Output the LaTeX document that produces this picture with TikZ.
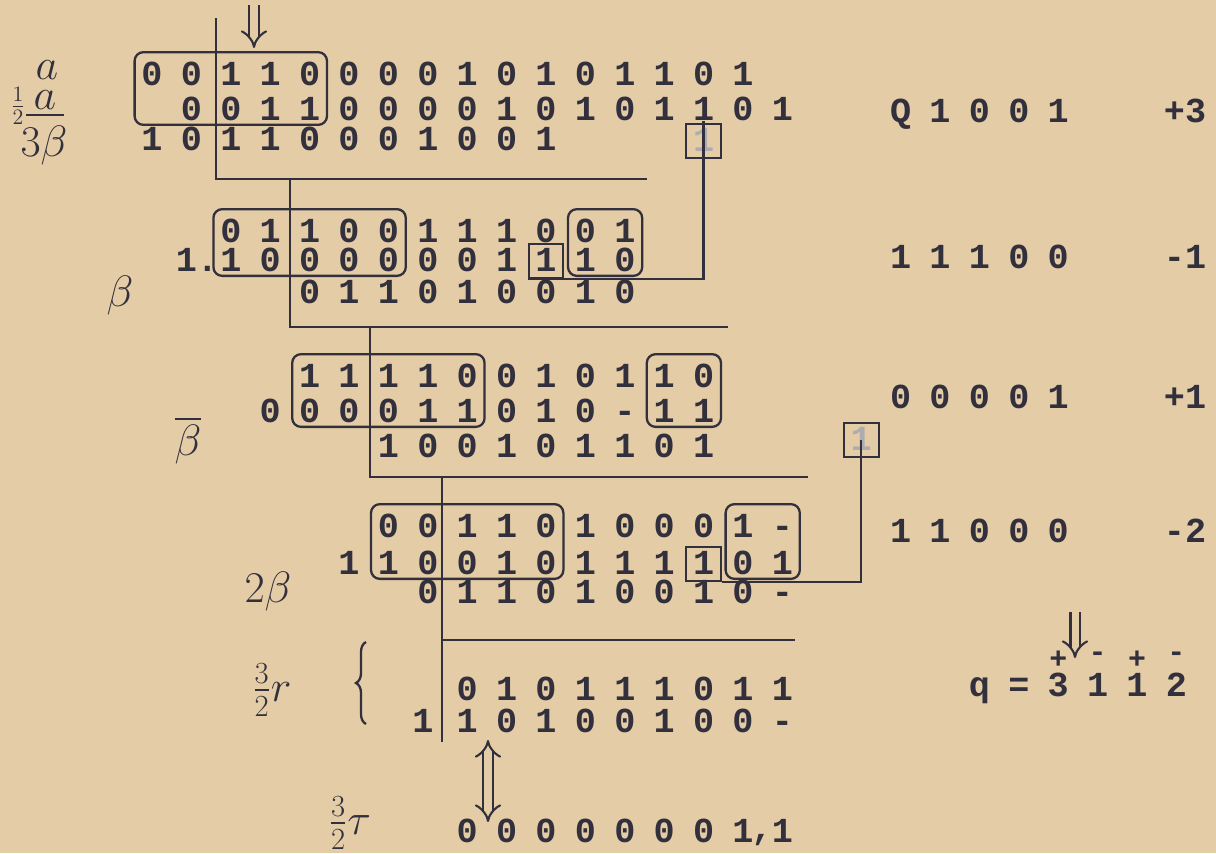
\documentclass[tikz,border=0pt]{standalone}
\usepackage{fix-cm}
\usepackage{amsmath,amssymb}
\usepackage{fontspec}
\newfontfamily\typewr{Liberation Mono}
\usetikzlibrary{fit,arrows.meta,decorations.pathreplacing}
\definecolor{paper}{RGB}{228,204,166}
\definecolor{ink}{RGB}{50,48,60}
\newcommand\digrow[4]{%
  \foreach \d [count=\c from #3] in {#4}
    \node[dig] (#1-\c) at ({152+39.4*\c},#2) {\d};}
\newcommand\colx[1]{{152+39.4*#1}}

\begin{document}
\begin{tikzpicture}[x=0.02cm, y=-0.02cm,
    dig/.style={font=\typewr\bfseries\fontsize{20}{24}\selectfont, text=ink, inner sep=0pt, text height=0.42cm, text depth=0pt},
    faint/.style={dig, text=ink!40},
    sgn/.style={font=\typewr\bfseries\fontsize{17}{19}\selectfont, text=ink, inner sep=0pt},
    hand/.style={font=\fontsize{25}{30}\selectfont, text=ink},
    grp/.style={draw=ink, line width=1.3pt, rounded corners=5pt, inner xsep=0.13cm, inner ysep=0.16cm, yshift=0.08cm},
    cell/.style={draw=ink, line width=1.2pt, inner xsep=0.13cm, inner ysep=0.12cm},
    rule/.style={draw=ink, line width=1.6pt},
    dblarr/.style={draw=ink, line width=1.2pt, double=paper, double distance=4pt, -{Implies}}]
        \fill[paper] (0,0) rectangle (1216,853);
        \useasboundingbox (0,0) rectangle (1216,853);
        \digrow{A}{75}{0}{0,0,1,1,0,0,0,0,1,0,1,0,1,1,0,1}
        \digrow{B}{110}{1}{0,0,1,1,0,0,0,0,1,0,1,0,1,1,0,1}
        \digrow{C}{140}{0}{1,0,1,1,0,0,0,1,0,0,1}
        \node[faint] (C-14) at (\colx{14},141) {1};
        \node[dig] (E-1) at (197,261) {1.};
        \digrow{D}{232}{2}{0,1,1,0,0,1,1,1,0,0,1}
        \digrow{E}{261}{2}{1,0,0,0,0,0,0,1,1,1,0}
        \digrow{F}{293}{4}{0,1,1,0,1,0,0,1,0}
        \node[dig] (H-3) at (\colx{3},412) {0};
        \digrow{G}{377}{4}{1,1,1,1,0,0,1,0,1,1,0}
        \digrow{H}{412}{4}{0,0,0,1,1,0,1,0,-,1,1}
        \digrow{I}{447}{6}{1,0,0,1,0,1,1,0,1}
        \node[faint] (I-18) at (\colx{18},440) {1};
        \node[dig] (K-5) at (\colx{5},564) {1};
        \digrow{J}{527}{6}{0,0,1,1,0,1,0,0,0,1,-}
        \digrow{K}{564}{6}{1,0,0,1,0,1,1,1,1,0,1}
        \digrow{L}{593}{7}{0,1,1,0,1,0,0,1,0,-}
        \node[dig] (N-7) at (423,722) {1};
        \digrow{M}{690}{8}{0,1,0,1,1,1,0,1,1}
        \digrow{N}{722}{8}{1,0,1,0,0,1,0,0,-}
        \digrow{O}{832}{8}{0,0,0,0,0,0,0,1,1}
        \node[sgn, font=\typewr\bfseries\fontsize{20}{24}\selectfont] (O-comma) at (762,840) {,};
        \digrow{Qa}{112}{19}{Q,1,0,0,1}
        \digrow{Qb}{258}{19}{1,1,1,0,0}
        \digrow{Qc}{398}{19}{0,0,0,0,1}
        \digrow{Qd}{532}{19}{1,1,0,0,0}
        \node[dig] (sa) at (1185,112) {+3};
        \node[dig] (sb) at (1185,258) {-1};
        \node[dig] (sc) at (1185,398) {+1};
        \node[dig] (sd) at (1185,532) {-2};
        \digrow{q}{686}{21}{q,=,3,1,1,2}
        \node[sgn] (sg-23) at (\colx{23},660) {+};
        \node[sgn] (sg-24) at (\colx{24},657) {-};
        \node[sgn] (sg-25) at (\colx{25},660) {+};
        \node[sgn] (sg-26) at (\colx{26},657) {-};
        \node[grp, fit=(A-0)(B-4)] (boxA) {};
        \node[cell, fit=(C-14)] (boxC) {};
        \node[grp, fit=(D-2)(E-6)] (boxD) {};
        \node[grp, fit=(D-11)(E-12)] (boxDr) {};
        \node[cell, fit=(E-10)] (boxE) {};
        \node[grp, fit=(G-4)(H-8)] (boxG) {};
        \node[grp, fit=(G-13)(H-14)] (boxGr) {};
        \node[cell, fit=(I-18)] (boxI) {};
        \node[grp, fit=(J-6)(K-10)] (boxJ) {};
        \node[grp, fit=(J-15)(K-16)] (boxJr) {};
        \node[cell, fit=(K-14)] (boxK) {};
        \coordinate (v1) at (216,18);  \coordinate (h1) at (647,179);
        \coordinate (v2) at (290,179); \coordinate (h2) at (728,327);
        \coordinate (v3) at (370,327); \coordinate (h3) at (808,477);
        \coordinate (v4) at (442,477); \coordinate (v4e) at (442,742);
        \coordinate (h4a) at (442,640); \coordinate (h4b) at (795,640);
        \draw[rule] (v1) |- (h1);
        \draw[rule] (v2) |- (h2);
        \draw[rule] (v3) |- (h3);
        \draw[rule] (v4) -- (v4e);
        \draw[rule] (h4a) -- (h4b);
        \draw[rule, line width=1.3pt] (B-14.south) |- (boxE.south west);
        \draw[rule, line width=1.3pt] (boxI.center) |- (boxK.south east);
        \coordinate (ar1a) at (254,5);    \coordinate (ar1b) at (254,48);
        \coordinate (ar2a) at (488,740);  \coordinate (ar2b) at (488,822);
        \coordinate (ar3a) at (1075,612); \coordinate (ar3b) at (1075,658);
        \draw[dblarr] (ar1a) -- (ar1b);
        \draw[dblarr, {Implies}-{Implies}] (ar2a) -- (ar2b);
        \draw[dblarr] (ar3a) -- (ar3b);
        \coordinate (br1) at (366,724); \coordinate (br2) at (366,642);
        \draw[ink, line width=1.3pt, decorate, decoration={brace, amplitude=0.2cm}] (br1) -- (br2);
        \node[hand] (la) at (47,70) {$a$};
        \node[hand] (lh) at (18,106) {$\scriptstyle\frac{1}{2}$};
        \node[hand] (lha) at (45,104) {$\underline{\,a\,}$};
        \node[hand] (l3b) at (44,146) {$3\beta$};
        \node[hand] (lb) at (120,296) {$\beta$};
        \node[hand] (lbb) at (188,440) {$\overline{\beta}$};
        \node[hand] (l2b) at (268,592) {$2\beta$};
        \node[hand] (lr) at (272,690) {$\frac{3}{2}r$};
        \node[hand] (lt) at (350,823) {$\frac{3}{2}\tau$};
\end{tikzpicture}
\end{document}
